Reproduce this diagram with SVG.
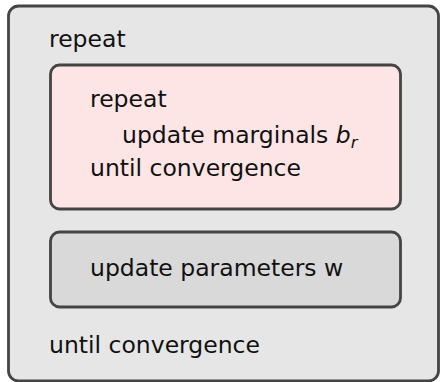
<svg xmlns="http://www.w3.org/2000/svg" width="440" height="382" viewBox="0 0 440 382">
<style>
.box{stroke:#444;stroke-width:2.8}
.t{font-family:"DejaVu Sans",sans-serif;font-size:23.5px;fill:#111}
</style>
<g id="outer">
<rect class="box" x="8.5" y="6" width="430" height="375" rx="10" fill="#e6e6e6"/>
<text class="t" x="49" y="47">repeat</text>
<text class="t" x="49" y="353">until convergence</text>
</g>
<g id="inner-loop">
<rect class="box" x="50.5" y="65" width="350" height="144" rx="9" fill="#fde5e5"/>
<text class="t" x="90" y="107">repeat</text>
<text class="t" x="122" y="143">update marginals <tspan font-style="italic">b</tspan><tspan font-style="italic" font-size="16.5" dy="5">r</tspan></text>
<text class="t" x="90" y="176">until convergence</text>
</g>
<g id="update-params">
<rect class="box" x="50.5" y="232" width="350" height="75" rx="9" fill="#d9d9d9"/>
<text class="t" x="90" y="276">update parameters w</text>
</g>
<g id="connectors"/>
</svg>
